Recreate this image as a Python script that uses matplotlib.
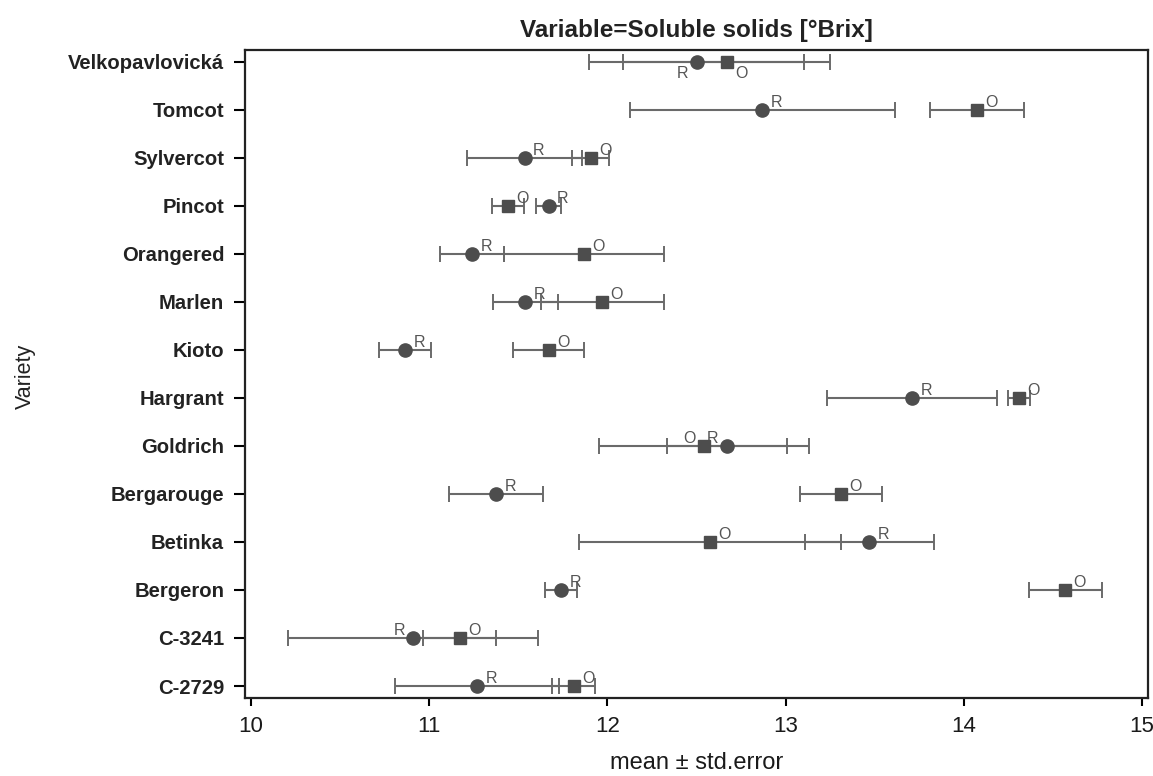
import numpy as np
import matplotlib.pyplot as plt

plt.rcParams['font.family'] = ['Liberation Sans', 'DejaVu Sans']

# varieties from bottom to top
varieties = ['C-2729', 'C-3241', 'Bergeron', 'Betinka', 'Bergarouge', 'Goldrich', 'Hargrant',
             'Kioto', 'Marlen', 'Orangered', 'Pincot', 'Sylvercot', 'Tomcot', 'Velkopavlovická']

# R (circle)
mean_r = [11.27, 10.91, 11.74, 13.47, 11.375, 12.67, 13.71,
          10.865, 11.54, 11.24, 11.67, 11.535, 12.87, 12.50]
se_r = [0.46, 0.70, 0.09, 0.36, 0.265, 0.335, 0.475,
        0.145, 0.18, 0.18, 0.07, 0.325, 0.745, 0.605]

# O (square)
mean_o = [11.81, 11.17, 14.57, 12.575, 13.31, 12.54, 14.31,
          11.67, 11.97, 11.87, 11.44, 11.905, 14.075, 12.67]
se_o = [0.12, 0.205, 0.205, 0.735, 0.23, 0.59, 0.06,
        0.20, 0.345, 0.45, 0.09, 0.105, 0.265, 0.58]

xticks = [10, 11, 12, 13, 14, 15]

# where the R/O letter sits next to its marker (default: top right)
label_side = {('Velkopavlovická', 'R'): 'bl', ('Velkopavlovická', 'O'): 'br',
              ('Goldrich', 'R'): 'tl', ('Goldrich', 'O'): 'tl',
              ('C-3241', 'R'): 'tl'}
offsets = {'tr': ((6, 0), 'left', 'bottom'), 'tl': ((-6, 0), 'right', 'bottom'),
           'br': ((6, -3), 'left', 'top'), 'bl': ((-6, -3), 'right', 'top')}

fig = plt.figure(figsize=(11.53, 7.76), dpi=100)
ax = fig.add_axes([0.2125, 0.1005, 0.7832, 0.8355])

y = np.arange(len(varieties))
bar_col = '#6a6a6a'
mk_col = '#4d4d4d'

series = [('R', mean_r, se_r, 'o', 9.5), ('O', mean_o, se_o, 's', 8.5)]
for name, m, s, mk, ms in series:
    ax.errorbar(m, y, xerr=s, fmt=mk, color=mk_col, ecolor=bar_col, elinewidth=1.5,
                capsize=5.5, capthick=1.4, markersize=ms, zorder=3)
    for i, v in enumerate(varieties):
        (dx, dy), ha, va = offsets[label_side.get((v, name), 'tr')]
        ax.annotate(name, (m[i], y[i]), xytext=(dx, dy), textcoords='offset points',
                    ha=ha, va=va, fontsize=11.5, color='#555555')

ax.set_xlim(9.966, 15.034)
ax.set_ylim(-0.25, len(varieties) - 0.75)
ax.set_xticks(xticks)
ax.set_xticklabels([str(t) for t in xticks], fontsize=16, color='#1a1a1a')
ax.set_yticks(y)
ax.set_yticklabels(varieties, fontsize=14.6, fontweight='bold', color='#222222')
ax.tick_params(axis='x', direction='out', length=6, width=1.5, pad=7)
ax.tick_params(axis='y', direction='out', length=8, width=1.5, pad=7)
for sp in ax.spines.values():
    sp.set_linewidth(1.6)
    sp.set_color('#222222')

ax.set_xlabel('mean ± std.error', fontsize=17, color='#1a1a1a', labelpad=11)
fig.text(0.022, 0.515, 'Variety', rotation=90, fontsize=15.5, color='#222222',
         ha='center', va='center')
ax.set_title('Variable=Soluble solids [°Brix]', fontsize=17.5, fontweight='bold',
             color='#222222', pad=9)

fig.savefig('out.png', dpi=100)
